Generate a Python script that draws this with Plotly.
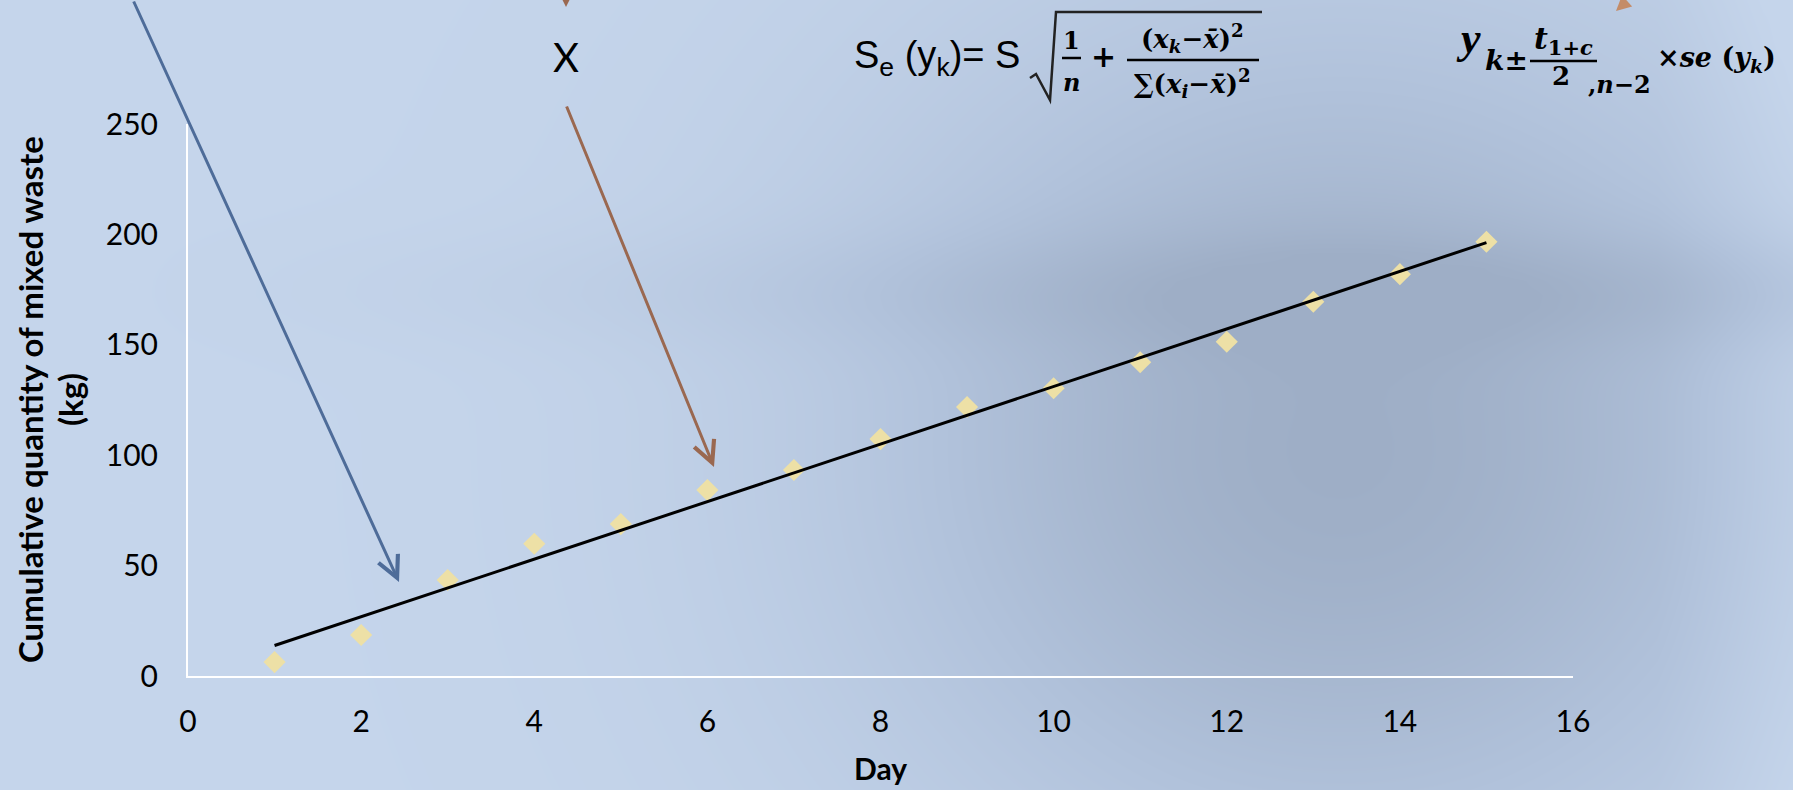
import numpy as np
import plotly.graph_objects as go

W, H = 1793, 790

# ---- data ---------------------------------------------------------------
days = [1, 2, 3, 4, 5, 6, 7, 8, 9, 10, 11, 12, 13, 14, 15]
waste_kg = [6.3, 18.6, 43.5, 59.9, 68.8, 84.2, 93.3, 107.3, 121.8, 130.3,
            142.1, 151.4, 169.5, 182.0, 196.7]
x_ticks = [0, 2, 4, 6, 8, 10, 12, 14, 16]
y_ticks = [0, 50, 100, 150, 200, 250]
y_title_lines = ["Cumulative quantity of mixed waste", "(kg)"]

# least-squares trend line over the observed days
slope, intercept = np.polyfit(days, waste_kg, 1)
trend_x = [days[0], days[-1]]
trend_y = [slope * d + intercept for d in trend_x]


def px(x, y):
    """pixel position on the page -> paper coordinates"""
    return x / W, 1 - y / H


# ---- soft blue backdrop -------------------------------------------------
gx = np.linspace(0, W, 120)
gy = np.linspace(0, H, 60)
GX, GY = np.meshgrid(gx, gy)
shade = np.exp(-((GX - 1340) / 480) ** 2 - ((GY - 450) / 440) ** 2)
shade += 0.25 * np.exp(-((GY - 290) / 60) ** 2) * np.clip((GX - 100) / 1200, 0, 1)
shade -= 0.2 * np.clip((GX - 1660) / 130, 0, 1)
shade = np.clip(shade, 0, 1)

fig = go.Figure()
fig.add_trace(go.Heatmap(
    x=gx, y=gy, z=shade, xaxis="x", yaxis="y",
    colorscale=[[0, "#c5d5eb"], [0.5, "#b1c2db"], [1, "#9eaec6"]],
    zmin=0, zmax=1, zsmooth="best", showscale=False, hoverinfo="skip",
))

# ---- chart --------------------------------------------------------------
fig.add_trace(go.Scatter(
    x=days, y=waste_kg, mode="markers", xaxis="x2", yaxis="y2",
    marker=dict(symbol="diamond", size=17, color="#ede0a6", line=dict(width=0)),
    showlegend=False,
))
fig.add_trace(go.Scatter(
    x=trend_x, y=trend_y, mode="lines", xaxis="x2", yaxis="y2",
    line=dict(color="black", width=3), showlegend=False,
))

tick_font = dict(family="Lato", size=30, color="black")

fig.update_layout(
    width=W, height=H,
    margin=dict(l=0, r=0, t=0, b=0, autoexpand=False),
    paper_bgcolor="#c5d5eb",
    plot_bgcolor="rgba(0,0,0,0)",
    showlegend=False,
    xaxis=dict(domain=[0, 1], range=[0, W], visible=False, fixedrange=True,
               automargin=False),
    yaxis=dict(domain=[0, 1], range=[H, 0], visible=False, fixedrange=True,
               automargin=False),
    xaxis2=dict(
        domain=[188 / W, 1573 / W], anchor="y2", range=[0, 16],
        tickvals=x_ticks, ticktext=[str(v) for v in x_ticks],
        showline=True, linecolor="white", linewidth=2,
        showgrid=False, zeroline=False, ticks="", tickfont=tick_font,
        ticklabelstandoff=18, automargin=False,
        title=dict(text="<b>Day</b>", font=dict(family="Lato", size=30, color="black"),
                   standoff=22),
    ),
    yaxis2=dict(
        domain=[114 / H, 666 / H], anchor="x2", range=[0, 250],
        tickvals=y_ticks, ticktext=[str(v) for v in y_ticks],
        showline=True, linecolor="white", linewidth=2,
        showgrid=False, zeroline=False, ticks="", tickfont=tick_font,
        ticklabelstandoff=22, automargin=False,
    ),
)

annotations = []
shapes = []


def arrow(tip, tail, color, head=5, size=1.4):
    tx, ty = px(*tip)
    annotations.append(dict(
        x=tx, y=ty, xref="paper", yref="paper", text="",
        ax=tail[0] - tip[0], ay=tail[1] - tip[1],
        showarrow=True, arrowhead=head, arrowsize=size, arrowwidth=3,
        arrowcolor=color,
    ))


def label(x, y, text, size, family, xanchor="left", yanchor="middle",
          color="black", angle=0):
    lx, ly = px(x, y)
    annotations.append(dict(
        x=lx, y=ly, xref="paper", yref="paper", text=text, showarrow=False,
        xanchor=xanchor, yanchor=yanchor, textangle=angle,
        font=dict(family=family, size=size, color=color),
    ))


def rule(x0, y0, x1, y1, width=2, color="black"):
    a0, b0 = px(x0, y0)
    a1, b1 = px(x1, y1)
    shapes.append(dict(type="line", xref="paper", yref="paper",
                       x0=a0, y0=b0, x1=a1, y1=b1,
                       line=dict(color=color, width=width)))


# value-axis title, two rotated lines
label(30, 400, f"<b>{y_title_lines[0]}</b>", 33, "Lato", xanchor="center", angle=-90)
label(70, 400, f"<b>{y_title_lines[1]}</b>", 33, "Lato", xanchor="center", angle=-90)

# pointer arrows
arrow((399, 582), (133, -20), "#4e6c99")
arrow((714, 467), (566, 105), "#9a6850")
arrow((566, 7), (566, -40), "#9a6850", head=2, size=1.0)
arrow((1616, 11), (1628, -60), "#c48c68", head=2, size=1.0)

# "X"
label(566, 57, "X", 40, "Lato", xanchor="center")

# standard error of the fitted value
SERIF = "DejaVu Serif"
label(852, 58, "S<sub>e</sub> (y<sub>k</sub>)= S", 38, "Liberation Sans")
# radical sign
r0 = px(1030, 78)
r1 = px(1036, 74)
r2 = px(1050, 100)
r3 = px(1056, 12)
r4 = px(1262, 12)
shapes.append(dict(
    type="path", xref="paper", yref="paper",
    path=f"M{r0[0]},{r0[1]} L{r1[0]},{r1[1]} L{r2[0]},{r2[1]} L{r3[0]},{r3[1]} L{r4[0]},{r4[1]}",
    line=dict(color="#222222", width=2.5),
))
label(1071, 40, "<b>1</b>", 24, SERIF, xanchor="center")
rule(1062, 58, 1081, 58, 2.5)
label(1071, 82, "<b><i>n</i></b>", 24, SERIF, xanchor="center")
label(1103, 57, "<b>+</b>", 30, SERIF, xanchor="center")
label(1192, 38, "<b>(<i>x</i><sub><i>k</i></sub>−<i>x̄</i>)<sup>2</sup></b>", 26, SERIF, xanchor="center")
rule(1127, 60, 1259, 60, 2.5)
label(1192, 83, "<b>∑(<i>x</i><sub><i>i</i></sub>−<i>x̄</i>)<sup>2</sup></b>", 26, SERIF, xanchor="center")

# confidence interval of the fitted value
label(1454, 38, "<b><i>y</i></b>", 44, "Liberation Serif")
label(1483, 61, "<b><i>k</i>±</b>", 28, SERIF)
label(1563, 40, "<b><i>t</i><sub>1+<i>c</i></sub></b>", 30, SERIF, xanchor="center")
rule(1530, 61, 1597, 61, 2.5)
label(1561, 76, "<b>2</b>", 26, SERIF, xanchor="center")
label(1586, 84, "<b>,<i>n</i>−2</b>", 24, SERIF)
label(1655, 60, "<b>×<i>se</i> (<i>y</i><sub><i>k</i></sub>)</b>", 27, SERIF)

fig.update_layout(annotations=annotations, shapes=shapes)

fig.write_html("out.html")
